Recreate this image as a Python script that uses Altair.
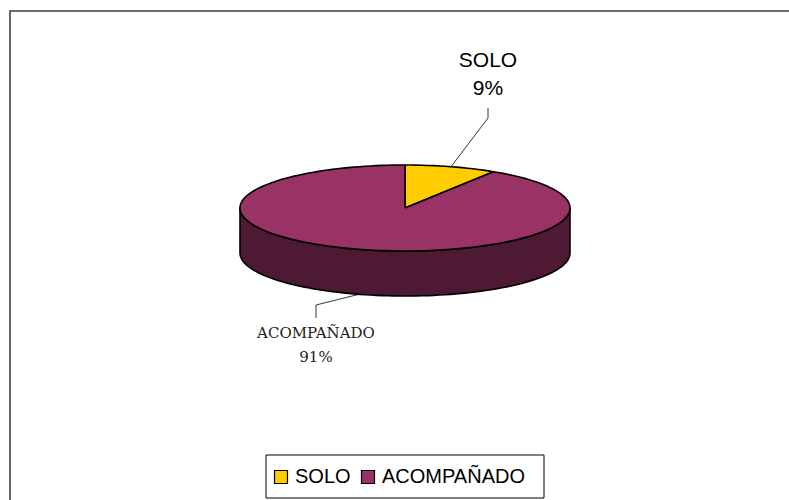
import math
import altair as alt
import pandas as pd

# ---------------- data ----------------
categories = ["SOLO", "ACOMPAÑADO"]
values = [9, 91]
colors = ["#FFCC00", "#993366"]
side_color = "#4D1933"

# ---------------- layout ----------------
W, H = 789, 500
CX, CY = 405, 208          # centre of the top face
RX, RY = 165, 43           # ellipse radii of the top face
DEPTH = 45                 # thickness of the disc
STEP = 2                   # degrees between outline points

total = sum(values)
pcts = [round(v / total * 100) for v in values]


def pt(phi, dy=0.0):
    r = math.radians(phi)
    return CX + RX * math.sin(r), CY - RY * math.cos(r) + dy


def arc(a0, a1, dy=0.0):
    n = max(2, int(abs(a1 - a0) / STEP) + 1)
    return [pt(a0 + (a1 - a0) * k / (n - 1), dy) for k in range(n)]


# slice angles (clockwise from 12 o'clock)
bounds = []
acc = 0.0
for v in values:
    a0 = acc / total * 360
    acc += v
    a1 = acc / total * 360
    bounds.append((a0, a1))

# side wall (front half of the disc)
wall_pts = arc(90, 270) + arc(270, 90, DEPTH)
wall_pts.append(wall_pts[0])
wall_df = pd.DataFrame(
    [{"x": x, "y": y, "i": i} for i, (x, y) in enumerate(wall_pts)]
)

# top-face slices
rows = []
for cat, (a0, a1) in zip(categories, bounds):
    p = [(CX, CY)] + arc(a0, a1) + [(CX, CY)]
    for i, (x, y) in enumerate(p):
        rows.append({"cat": cat, "x": x, "y": y, "i": i})
slice_df = pd.DataFrame(rows)

# leader lines + labels (label anchor positions are layout)
label_anchor = {"SOLO": (488, 108, 118), "ACOMPAÑADO": (316, 318, 305)}
label_text_y = {"SOLO": (67, 95), "ACOMPAÑADO": (338, 362)}
label_font = {"SOLO": "sans", "ACOMPAÑADO": "serif"}

lead_rows = []
text_rows = []
for cat, pc, (a0, a1) in zip(categories, pcts, bounds):
    mid = (a0 + a1) / 2
    front = 90 < mid < 270
    ex, ey = pt(mid, DEPTH if front else 0)
    lx, ly0, ly1 = label_anchor[cat]
    for i, (x, y) in enumerate([(lx, ly0), (lx, ly1), (ex, ey)]):
        lead_rows.append({"cat": cat, "x": x, "y": y, "i": i})
    t1, t2 = label_text_y[cat]
    text_rows.append({"t": cat, "x": lx, "y": t1, "f": label_font[cat]})
    text_rows.append({"t": f"{pc}%", "x": lx, "y": t2, "f": label_font[cat]})
lead_df = pd.DataFrame(lead_rows)
text_df = pd.DataFrame(text_rows)

xs = alt.Scale(domain=[0, W], nice=False, zero=False)
ys = alt.Scale(domain=[0, H], nice=False, zero=False, reverse=True)

one = pd.DataFrame({"a": [0]})
frame = alt.Chart(one).mark_rect(
    fill="white", stroke="#404040", strokeWidth=1.6
).encode(x=alt.value(10), x2=alt.value(805), y=alt.value(11), y2=alt.value(515))

legend_box = alt.Chart(one).mark_rect(
    fill="white", stroke="black", strokeWidth=1
).encode(x=alt.value(266), x2=alt.value(544), y=alt.value(455), y2=alt.value(498))

wall = alt.Chart(wall_df).mark_line(
    fill=side_color, stroke="black", strokeWidth=1.6, strokeJoin="round"
).encode(
    x=alt.X("x:Q", scale=xs, axis=None),
    y=alt.Y("y:Q", scale=ys, axis=None),
    order="i:Q",
)

slices = alt.Chart(slice_df).mark_line(
    stroke="black", strokeWidth=1.6, strokeJoin="round"
).encode(
    x=alt.X("x:Q", scale=xs, axis=None),
    y=alt.Y("y:Q", scale=ys, axis=None),
    order="i:Q",
    fill=alt.Fill(
        "cat:N",
        scale=alt.Scale(domain=categories, range=colors),
        legend=alt.Legend(
            title=None,
            orient="none",
            legendX=271,
            legendY=467,
            direction="horizontal",
            symbolType="square",
            symbolSize=169,
            symbolStrokeColor="black",
            symbolStrokeWidth=1.2,
            symbolOpacity=1,
            labelFont="Liberation Sans",
            labelFontSize=20,
            labelColor="black",
            labelOffset=4,
            columnPadding=7,
            padding=0,
        ),
    ),
)

leaders = alt.Chart(lead_df).mark_line(
    stroke="black", strokeWidth=0.8
).encode(
    x=alt.X("x:Q", scale=xs, axis=None),
    y=alt.Y("y:Q", scale=ys, axis=None),
    order="i:Q",
    detail="cat:N",
)

texts_solo = alt.Chart(text_df[text_df["f"] == "sans"]).mark_text(
    align="center", baseline="alphabetic", color="black",
    font="Liberation Sans", fontSize=21,
).encode(
    x=alt.X("x:Q", scale=xs, axis=None),
    y=alt.Y("y:Q", scale=ys, axis=None),
    text="t:N",
)
texts_acomp = alt.Chart(text_df[text_df["f"] == "serif"]).mark_text(
    align="center", baseline="alphabetic", color="#222222",
    font="DejaVu Serif", fontSize=15,
).encode(
    x=alt.X("x:Q", scale=xs, axis=None),
    y=alt.Y("y:Q", scale=ys, axis=None),
    text="t:N",
)

chart = alt.layer(
    frame, legend_box, wall, slices, leaders, texts_solo, texts_acomp
).properties(
    width=W,
    height=H,
    autosize=alt.AutoSizeParams(type="none"),
    padding=0,
    background="white",
).configure_view(stroke=None)

chart.save("out.html", embed_options={"renderer": "svg", "actions": False})
